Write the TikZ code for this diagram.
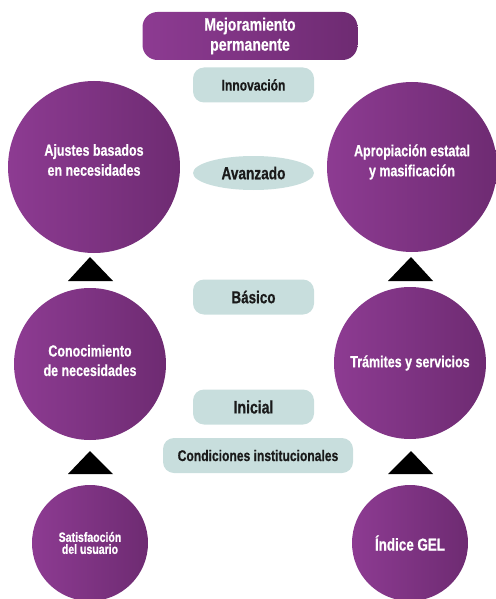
\documentclass[tikz,border=0pt]{standalone}
\usepackage{fontspec}
\setmainfont{Liberation Sans}[FakeStretch=0.78,BoldFont={* Bold},BoldFeatures={FakeBold=0.6}]
\usetikzlibrary{shapes.geometric}
\definecolor{purpL}{HTML}{8D3B92}
\definecolor{purpR}{HTML}{6E2B72}
\definecolor{tealbox}{HTML}{C8DEDD}
\definecolor{txtdark}{HTML}{1A1A1A}
\tikzset{
  pcirc/.style={circle, inner sep=0pt, left color=purpL, right color=purpR, draw=none},
  ctext/.style={text=white, align=center, inner sep=0pt},
  tbox/.style={rounded corners=11pt, fill=tealbox, draw=none, text=txtdark,
    font=\bfseries, align=center, inner sep=0pt, minimum width=121pt, minimum height=35pt},
  tri/.style={fill=black, draw=none},
}
\begin{document}
\begin{tikzpicture}[x=1pt,y=-1pt]
\useasboundingbox (0,0) rectangle (495,599);
% top
\node[rounded corners=15pt, left color=purpL, right color=purpR, draw=none, text=white,
  font=\bfseries\fontsize{18}{20}\selectfont, align=center, inner sep=0pt,
  minimum width=215pt, minimum height=48pt] (top) at (250,36) {Mejoramiento\\permanente};
\node[tbox, font=\bfseries\fontsize{15.5}{16}\selectfont] (innov) at (253.5,85) {Innovación};
% upper circles
\node[pcirc, minimum size=172pt] (ajustes) at (94,167) {};
\node[ctext, font=\bfseries\fontsize{16}{20}\selectfont] (ajustesT) at ([yshift=7pt]ajustes.center) {Ajustes basados\\en necesidades};
\node[pcirc, minimum size=170pt] (aprop) at (412,167) {};
\node[ctext, font=\bfseries\fontsize{16}{20}\selectfont] (apropT) at ([yshift=5pt]aprop.center) {Apropiación estatal\\y masificación};
\node[ellipse, fill=tealbox, draw=none, text=txtdark, inner sep=0pt, minimum width=121pt,
  minimum height=34pt, font=\bfseries\fontsize{17.5}{18}\selectfont] (avanz) at (253.5,173) {Avanzado};
% middle
\node[tbox, font=\bfseries\fontsize{17.2}{18}\selectfont] (basico) at (253.5,297) {Básico};
\node[pcirc, minimum size=152pt] (conoc) at (90,364) {};
\node[ctext, font=\bfseries\fontsize{16}{19.5}\selectfont] (conocT) at ([yshift=3.5pt]conoc.center) {Conocimiento\\de necesidades};
\node[pcirc, minimum size=152pt] (tram) at (410,363) {};
\node[ctext, font=\bfseries\fontsize{16}{17}\selectfont] (tramT) at (tram.center) {Trámites y servicios};
\node[tbox, font=\bfseries\fontsize{18}{19}\selectfont] (inicial) at (253.5,407) {Inicial};
\node[tbox, minimum width=190pt, font=\bfseries\fontsize{15.5}{16}\selectfont] (cond) at (258,455.5) {Condiciones institucionales};
% bottom circles
\node[pcirc, minimum size=116pt] (satis) at (90,543) {};
\node[ctext, font=\bfseries\fontsize{13.5}{12}\selectfont] (satisT) at (satis.center) {Satisfaoción\\del usuario};
\node[pcirc, minimum size=116pt] (gel) at (410,543) {};
\node[ctext, font=\bfseries\fontsize{17.2}{18}\selectfont] (gelT) at (gel.center) {Índice GEL};
% triangles
\fill[tri] (90,257) -- (113,281) -- (68,281) -- cycle;
\fill[tri] (411,257) -- (433,281) -- (388,281) -- cycle;
\fill[tri] (90,451) -- (113,474) -- (68,474) -- cycle;
\fill[tri] (411,451) -- (433,474) -- (388,474) -- cycle;
\end{tikzpicture}
\end{document}
